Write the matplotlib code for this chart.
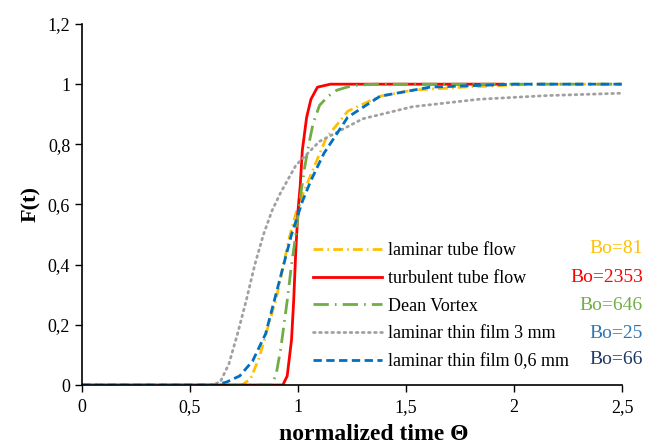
import matplotlib
matplotlib.use("Agg")
import matplotlib.pyplot as plt
from matplotlib.ticker import FuncFormatter

plt.rcParams['font.family'] = ['Liberation Serif', 'DejaVu Serif']

# --- data ---
x_tube = [0, 0.74, 0.78, 0.82, 0.86, 0.90, 0.93, 0.96, 0.99, 1.02, 1.06, 1.13, 1.23, 1.38, 1.53, 1.76, 2.1, 2.5]
y_tube = [0, 0, 0.02, 0.09, 0.19, 0.29, 0.39, 0.49, 0.57, 0.63, 0.70, 0.82, 0.91, 0.96, 0.98, 0.99, 1.0, 1.0]

x_turb = [0, 0.93, 0.95, 0.97, 0.98, 0.99, 1.0, 1.01, 1.02, 1.04, 1.06, 1.09, 1.15, 1.95]
y_turb = [0, 0, 0.03, 0.15, 0.28, 0.45, 0.58, 0.66, 0.78, 0.89, 0.95, 0.99, 1.0, 1.0]

x_dean = [0, 0.88, 0.90, 0.92, 0.95, 0.97, 0.99, 1.01, 1.03, 1.05, 1.07, 1.10, 1.14, 1.18, 1.25, 1.35, 2.5]
y_dean = [0, 0, 0.04, 0.12, 0.28, 0.40, 0.50, 0.62, 0.72, 0.80, 0.87, 0.93, 0.96, 0.98, 0.995, 1.0, 1.0]

x_film3 = [0, 0.60, 0.64, 0.68, 0.72, 0.76, 0.80, 0.84, 0.88, 0.92, 0.99, 1.10, 1.30, 1.53, 1.84, 2.15, 2.5]
y_film3 = [0, 0, 0.01, 0.07, 0.17, 0.28, 0.40, 0.50, 0.58, 0.64, 0.73, 0.81, 0.885, 0.925, 0.95, 0.962, 0.97]

x_film06 = [0, 0.62, 0.67, 0.73, 0.79, 0.85, 0.89, 0.93, 0.97, 1.02, 1.06, 1.12, 1.23, 1.38, 1.61, 2.0, 2.5]
y_film06 = [0, 0, 0.01, 0.03, 0.08, 0.17, 0.28, 0.39, 0.50, 0.61, 0.68, 0.77, 0.89, 0.96, 0.99, 1.0, 1.0]

labels = ['laminar tube flow', 'turbulent tube flow', 'Dean Vortex',
          'laminar thin film 3 mm', 'laminar thin film 0,6 mm']
bo_text = ['Bo=81', 'Bo=2353', 'Bo=646', 'Bo=25', 'Bo=66']
bo_colors = ['#FFC000', '#FF0000', '#70AD47', '#2E75B6', '#1F3864']

x_ticks = [0, 0.5, 1, 1.5, 2, 2.5]
y_ticks = [0, 0.2, 0.4, 0.6, 0.8, 1.0, 1.2]

fig = plt.figure(figsize=(6.46, 4.46), dpi=100)
ax = fig.add_axes([82/646, 61/446, 540/646, 361/446])

lw = 2.0
ax.plot(x_tube, y_tube, color='#FFC000', lw=lw, dashes=(3.5, 1.5, 0.6, 1.5), label=labels[0])
ax.plot(x_turb, y_turb, color='#FF0000', lw=lw, label=labels[1])
ax.plot(x_dean, y_dean, color='#70AD47', lw=lw, dashes=(5.5, 2.2, 0.6, 2.2), label=labels[2])
ax.plot(x_film3, y_film3, color='#A0A0A0', lw=lw, dashes=(0.6, 1.6),
        dash_capstyle='round', label=labels[3])
ax.plot(x_film06, y_film06, color='#0070C0', lw=lw, dashes=(3, 1.6), label=labels[4])

ax.set_xlim(0, 2.5)
ax.set_ylim(0, 1.2)
ax.set_xticks(x_ticks)
ax.set_yticks(y_ticks)
comma = FuncFormatter(lambda v, p: ('%g' % v).replace('.', ','))
ax.xaxis.set_major_formatter(comma)
ax.yaxis.set_major_formatter(comma)
ax.tick_params(direction='out', length=5, width=1, labelsize=13, colors='black')
ax.tick_params(axis='x', pad=5)
for s in ['top', 'right']:
    ax.spines[s].set_visible(False)
for s in ['left', 'bottom']:
    ax.spines[s].set_linewidth(1.2)

ax.set_xlabel('normalized time Θ', fontsize=17, fontweight='bold')
ax.xaxis.set_label_coords((374 - 82) / 540, (385 - 424) / 361)
ax.set_ylabel('F(t)', fontsize=16, fontweight='bold', labelpad=5)

leg = ax.legend(loc='upper left', bbox_to_anchor=(313/646, 1 - 242/446),
                bbox_transform=fig.transFigure, frameon=False, fontsize=13,
                handlelength=3.8, handletextpad=0.35, labelspacing=0.6,
                borderpad=0, borderaxespad=0)

rows = [249, 277, 305, 333, 359]
for t, c, r in zip(bo_text, bo_colors, rows):
    fig.text(643/646, 1 - r/446, t, color=c, fontsize=14, ha='right', va='center')

fig.savefig('out.png', dpi=100)
